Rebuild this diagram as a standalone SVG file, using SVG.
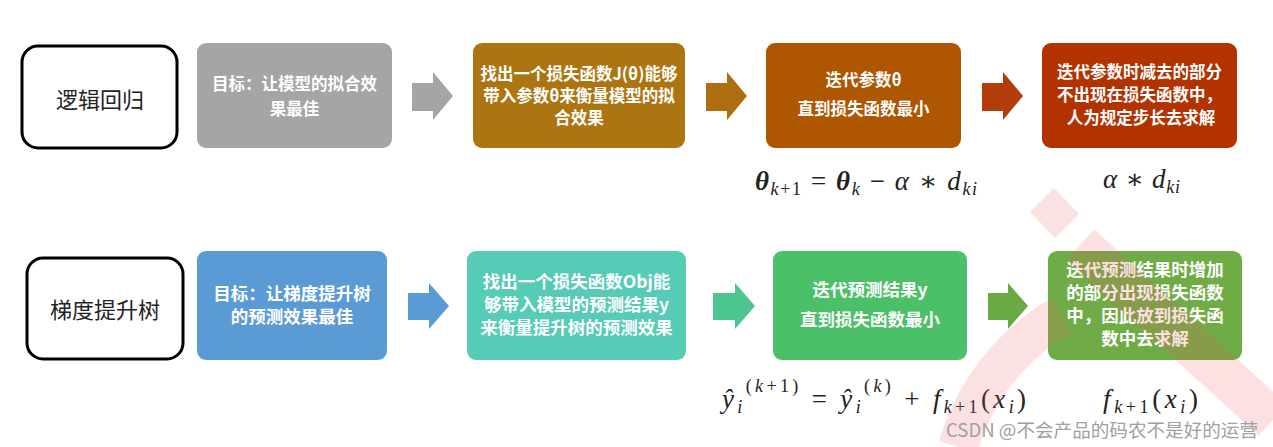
<svg xmlns="http://www.w3.org/2000/svg" width="1273" height="447" viewBox="0 0 1273 447">
<style>
.lbl{fill:#fff;stroke:#000;stroke-width:3}
.lt{font-family:"Noto Sans CJK SC","Liberation Sans",sans-serif;font-size:22px;fill:#222;text-anchor:middle}
.t1{font-family:"Noto Sans CJK SC","Liberation Sans",sans-serif;font-size:16.5px;font-weight:bold;fill:#fff;text-anchor:middle}
.t2{font-family:"Noto Sans CJK SC","Liberation Sans",sans-serif;font-size:17.5px;font-weight:bold;fill:#fff;text-anchor:middle}
.m{font-family:"Liberation Serif","DejaVu Serif",serif;font-size:27px;font-style:italic;fill:#222}
.n{font-style:normal}
.s{font-size:18px}
.wm{fill:#f05a64;opacity:0.18}
</style>
<rect width="1273" height="447" fill="#fff"/>

<g id="lr"><rect class="lbl" x="22" y="46" width="155" height="102" rx="16"/><text class="lt" x="100" y="108">逻辑回归</text></g>
<g id="gbt"><rect class="lbl" x="27" y="258" width="156" height="101" rx="16"/><text class="lt" x="105" y="318">梯度提升树</text></g>

<g id="r1b1"><rect x="197" y="43" width="195" height="105" rx="9" fill="#a5a5a5"/>
<text class="t1" x="294.5" y="90">目标：让模型的拟合效</text><text class="t1" x="294.5" y="115">果最佳</text></g>
<g id="r1b2"><rect x="473" y="43" width="212" height="105" rx="9" fill="#ac7511"/>
<text class="t1" x="579" y="80">找出一个损失函数J(θ)能够</text><text class="t1" x="579" y="102">带入参数θ来衡量模型的拟</text><text class="t1" x="579" y="124">合效果</text></g>
<g id="r1b3"><rect x="766" y="43" width="195" height="105" rx="9" fill="#ae5600"/>
<text class="t1" x="863.5" y="86">迭代参数θ</text><text class="t1" x="863.5" y="115">直到损失函数最小</text></g>
<g id="r1b4"><rect x="1042" y="43" width="195" height="105" rx="9" fill="#b23300"/>
<text class="t1" x="1139.5" y="78">迭代参数时减去的部分</text><text class="t1" x="1139.5" y="101">不出现在损失函数中，</text><text class="t1" x="1141" y="124">人为规定步长去求解</text></g>

<g id="r2b1"><rect x="197" y="251" width="190" height="109" rx="9" fill="#5b9bd5"/>
<text class="t2" x="292" y="300">目标：让梯度提升树</text><text class="t2" x="292" y="323">的预测效果最佳</text></g>
<g id="r2b2"><rect x="467" y="251" width="219" height="109" rx="9" fill="#56cbb6"/>
<text class="t2" x="576.5" y="288">找出一个损失函数Obj能</text><text class="t2" x="576.5" y="311">够带入模型的预测结果y</text><text class="t2" x="576.5" y="334">来衡量提升树的预测效果</text></g>
<g id="r2b3"><rect x="773" y="251" width="194" height="109" rx="9" fill="#4bc068"/>
<text class="t2" x="870" y="296">迭代预测结果y</text><text class="t2" x="870" y="326">直到损失函数最小</text></g>
<g id="r2b4"><rect x="1048" y="251" width="194" height="109" rx="9" fill="#6fac45"/>
<text class="t2" x="1145" y="276">迭代预测结果时增加</text><text class="t2" x="1145" y="299">的部分出现损失函数</text><text class="t2" x="1145" y="322">中，因此放到损失函</text><text class="t2" x="1145" y="345">数中去求解</text></g>

<g id="connectors">
<polygon points="412,83 433,83 433,72 453,96 433,120 433,111 412,111" fill="#a5a5a5"/>
<polygon points="706,83 727,83 727,72 747,96 727,120 727,111 706,111" fill="#af6d12"/>
<polygon points="982,83 1003,83 1003,72 1023,96 1003,120 1003,111 982,111" fill="#b33d0a"/>
<polygon points="408,293 429,293 429,283 449,306 429,329 429,320 408,320" fill="#5b9bd5"/>
<polygon points="713,293 735,293 735,283 755,306 735,329 735,320 713,320" fill="#4dc590"/>
<polygon points="988,293 1008,293 1008,283 1028,306 1008,329 1008,320 988,320" fill="#6aa944"/>
</g>

<g id="formulas">
<text class="m" x="755" y="190" textLength="222" lengthAdjust="spacing"><tspan font-weight="bold">θ</tspan><tspan class="s" dy="5">k</tspan><tspan class="s n">+1</tspan><tspan class="n" dy="-5"> = </tspan><tspan font-weight="bold">θ</tspan><tspan class="s" dy="5">k</tspan><tspan class="n" dy="-5"> − </tspan>α<tspan class="n"> ∗ </tspan>d<tspan class="s" dy="5">ki</tspan></text>
<text class="m" x="1103" y="188" textLength="77" lengthAdjust="spacing">α<tspan class="n"> ∗ </tspan>d<tspan class="s" dy="5">ki</tspan></text>
<text class="m" x="722" y="408" textLength="304" lengthAdjust="spacing">ŷ<tspan class="s" dy="5">i</tspan><tspan class="s n" dy="-21">(</tspan><tspan class="s">k</tspan><tspan class="s n">+1)</tspan><tspan class="n" dy="16"> = </tspan>ŷ<tspan class="s" dy="5">i</tspan><tspan class="s n" dy="-21">(</tspan><tspan class="s">k</tspan><tspan class="s n">)</tspan><tspan class="n" dy="16"> + </tspan>f<tspan class="s" dy="5">k</tspan><tspan class="s n">+1</tspan><tspan class="n" dy="-5">(</tspan>x<tspan class="s" dy="5">i</tspan><tspan class="n" dy="-5">)</tspan></text>
<text class="m" x="1103" y="408" textLength="95" lengthAdjust="spacing">f<tspan class="s" dy="5">k</tspan><tspan class="s n">+1</tspan><tspan class="n" dy="-5">(</tspan>x<tspan class="s" dy="5">i</tspan><tspan class="n" dy="-5">)</tspan></text>
</g>

<g id="watermark">
<polygon class="wm" points="1030,212 1054,188 1079,214 1055,238"/>
<line x1="1080" y1="245" x2="1273" y2="420" stroke="#f05a64" stroke-width="42" opacity="0.18"/>
<path d="M958,447 Q985,360 1062,315" fill="none" stroke="#f05a64" stroke-width="40" opacity="0.18"/>
<text x="946" y="437" font-family="'Noto Sans CJK SC','Liberation Sans',sans-serif" font-size="18.5" fill="#a0a0a0" textLength="312" lengthAdjust="spacingAndGlyphs">CSDN @不会产品的码农不是好的运营</text>
</g>
</svg>
